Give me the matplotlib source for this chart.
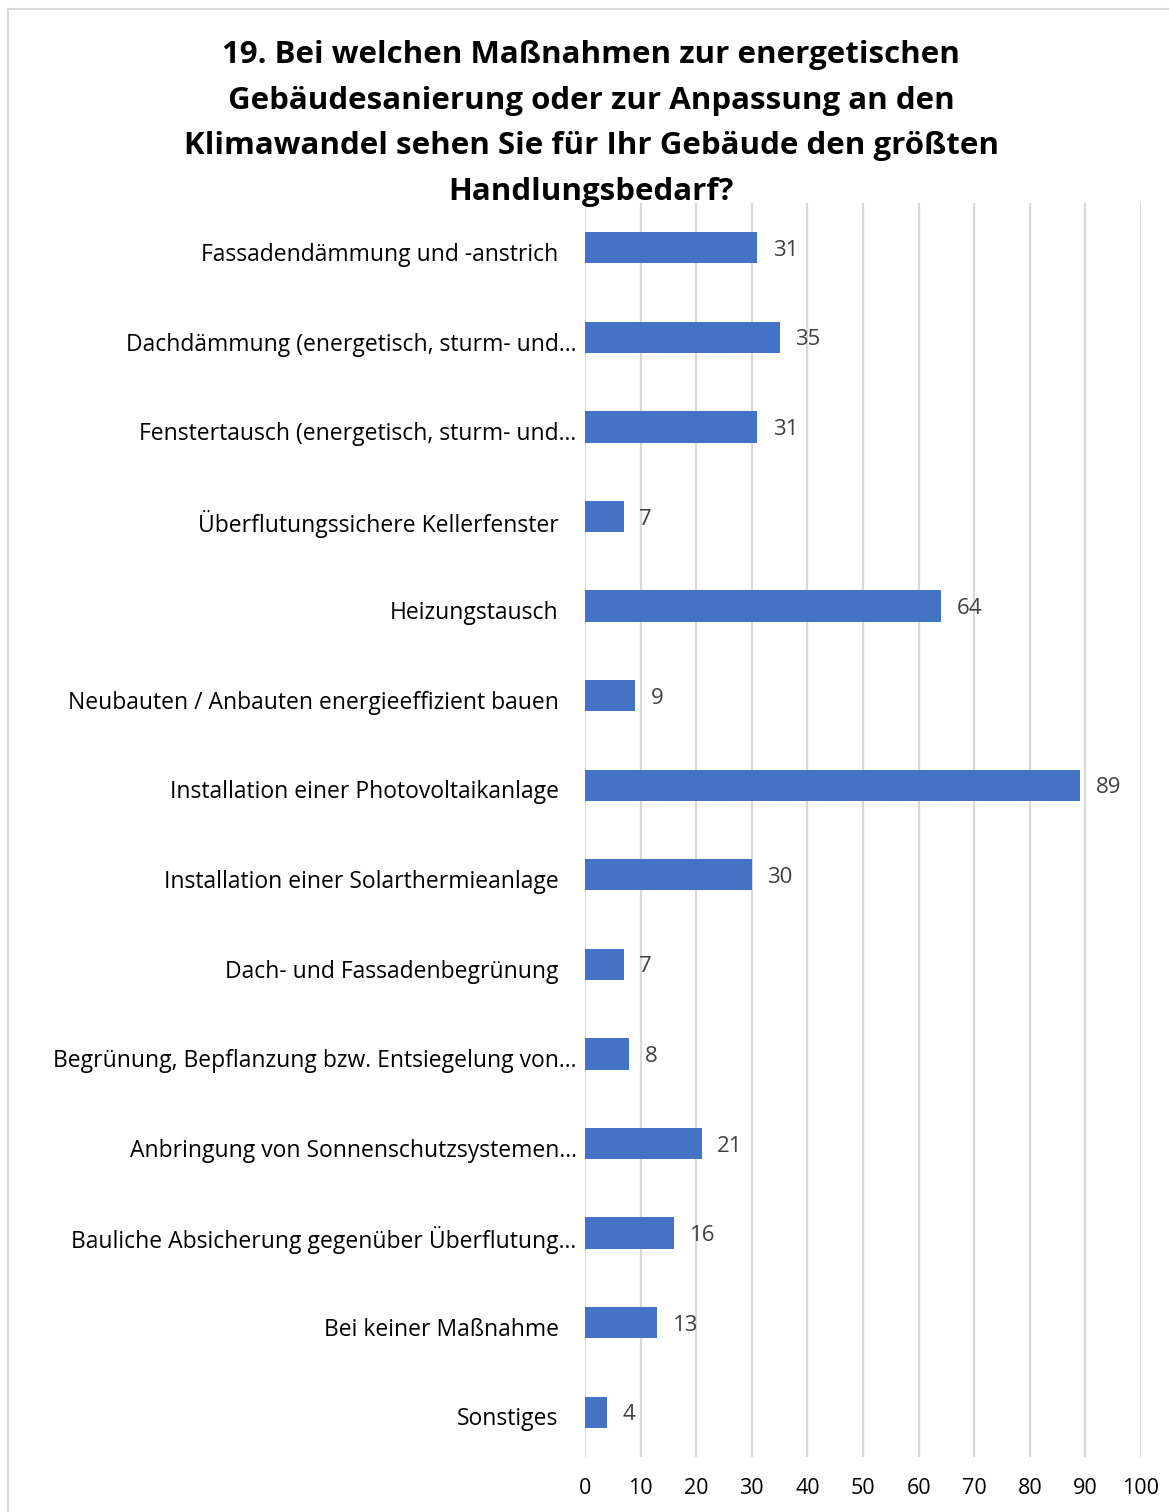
import matplotlib.pyplot as plt
from matplotlib.patches import Rectangle

plt.rcParams['font.family'] = ['Open Sans', 'DejaVu Sans']

# Antworten und Anzahl der Nennungen
massnahmen = [
    'Fassadendämmung und -anstrich',
    'Dachdämmung (energetisch, sturm- und…',
    'Fenstertausch (energetisch, sturm- und…',
    'Überflutungssichere Kellerfenster',
    'Heizungstausch',
    'Neubauten / Anbauten energieeffizient bauen',
    'Installation einer Photovoltaikanlage',
    'Installation einer Solarthermieanlage',
    'Dach- und Fassadenbegrünung',
    'Begrünung, Bepflanzung bzw. Entsiegelung von…',
    'Anbringung von Sonnenschutzsystemen…',
    'Bauliche Absicherung gegenüber Überflutung…',
    'Bei keiner Maßnahme',
    'Sonstiges',
]
anzahl = [31, 35, 31, 7, 64, 9, 89, 30, 7, 8, 21, 16, 13, 4]
x_ticks = [0, 10, 20, 30, 40, 50, 60, 70, 80, 90, 100]

titel = ('19. Bei welchen Maßnahmen zur energetischen\n'
         'Gebäudesanierung oder zur Anpassung an den\n'
         'Klimawandel sehen Sie für Ihr Gebäude den größten\n'
         'Handlungsbedarf?')

fig = plt.figure(figsize=(11.69, 15.12), dpi=100)
fig.patches.append(Rectangle((8 / 1169, -0.01), 1.0, 1 - 9 / 1512 + 0.01,
                             transform=fig.transFigure, fill=False,
                             edgecolor='#d9d9d9', linewidth=1.5))

ax = fig.add_axes([585 / 1169, 1 - 1457 / 1512, (1141 - 585) / 1169, (1457 - 203) / 1512])

pos = list(range(len(massnahmen)))
ax.barh(pos, anzahl, height=0.35, color='#4472C4', zorder=3)
for p, v in zip(pos, anzahl):
    ax.text(v + 2.8, p, str(v), va='center_baseline', ha='left', fontsize=16, color='#404040')

# Kategorien links neben der Achse; gekürzte Texte reichen näher heran
for p, name in zip(pos, massnahmen):
    dx = -6 if name.endswith('…') else -19
    ax.annotate(name, xy=(0, p), xycoords=('axes fraction', 'data'),
                xytext=(dx, -3), textcoords='offset points',
                ha='right', va='center_baseline', fontsize=16.5, color='#000000')

ax.set_xlim(0, 100)
ax.set_ylim(len(massnahmen) - 0.5, -0.5)
ax.set_xticks(x_ticks)
ax.set_xticklabels([str(t) for t in x_ticks], fontsize=15.5, color='#000000')
ax.set_yticks([])
ax.tick_params(axis='both', length=0)
ax.tick_params(axis='x', pad=15)
ax.grid(axis='x', color='#d9d9d9', linewidth=1.6, zorder=0)
for s in ax.spines.values():
    s.set_visible(False)

fig.text(591 / 1169, 1 - 40 / 1512, titel, ha='center', va='top', fontsize=22.5,
         fontweight='bold', linespacing=1.68)

fig.savefig('out.png', dpi=100)
